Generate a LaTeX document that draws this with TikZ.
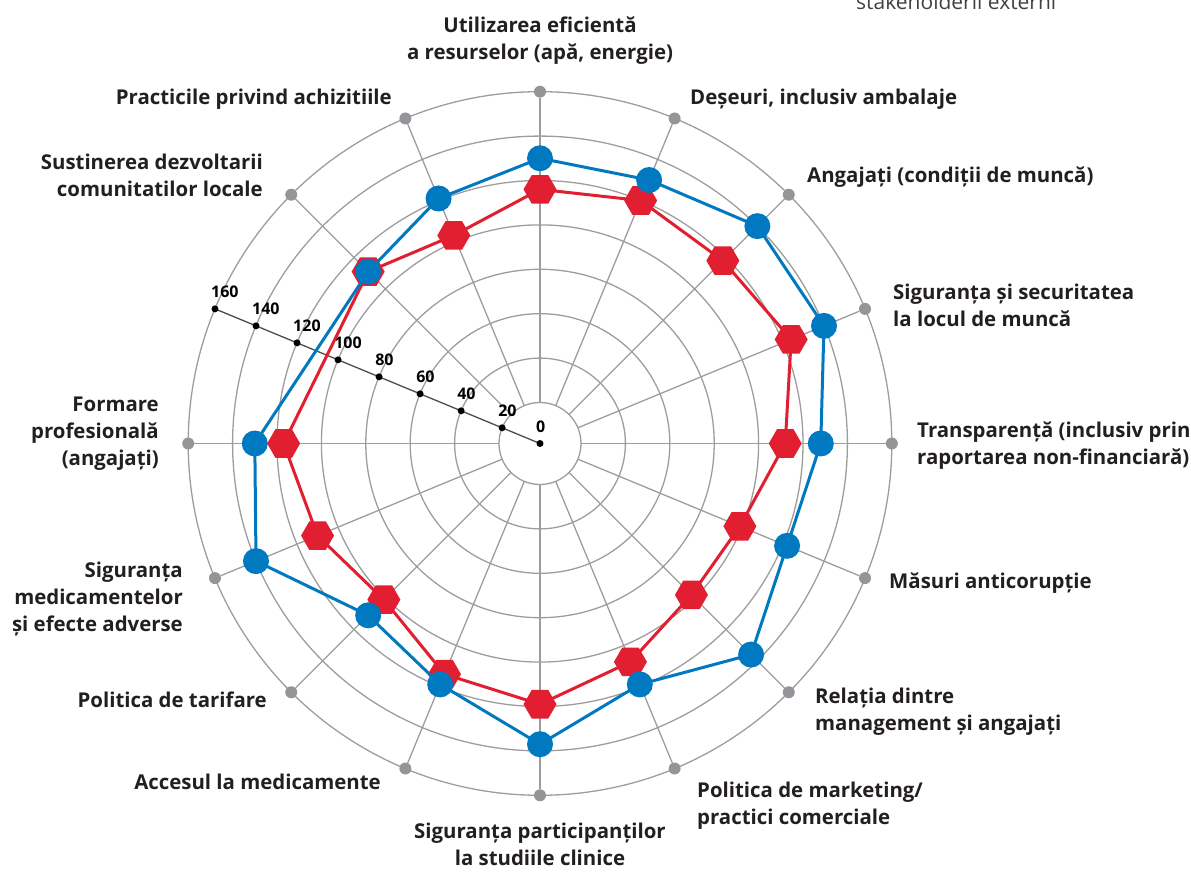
\documentclass[tikz,border=0pt]{standalone}
\usepackage{fontspec}
\setmainfont{Open Sans}
\usetikzlibrary{shapes.geometric}

\definecolor{ringgray}{HTML}{9D9D9D}
\definecolor{dotgray}{HTML}{939598}
\definecolor{txtdark}{HTML}{231F20}
\definecolor{serblue}{HTML}{0079C1}
\definecolor{serred}{HTML}{E11F30}

\tikzset{
  ring/.style={draw=ringgray, line width=1.3},
  enddot/.style={circle, fill=dotgray, inner sep=0, minimum size=12},
  scaledot/.style={circle, fill=black, inner sep=0, minimum size=7},
  scalelbl/.style={font=\fontsize{16}{16}\selectfont\bfseries, text=black, inner sep=0, anchor=base west},
  lbl/.style={font=\fontsize{20.4}{27}\selectfont\bfseries, text=txtdark, inner sep=0},
  bmark/.style={circle, fill=serblue, inner sep=0, minimum size=26},
  rmark/.style={regular polygon, regular polygon sides=6, fill=serred, inner sep=0, minimum size=33},
}

\begin{document}
\begin{tikzpicture}[x=1pt, y=1pt, declare function={ringr(\v)=2.22*\v-3.4;}]
\useasboundingbox (0,0) rectangle (1191,872);

\begin{scope}[shift={(540,428.5)}]
% rings
\foreach \v in {20,40,...,160}
  \draw[ring] (0,0) circle[radius={ringr(\v)}];
% spokes with end dots
\foreach \a [count=\i] in {90,67.5,45,22.5,0,-22.5,-45,-67.5,-90,-112.5,-135,-157.5,180,135,112.5} {
  \coordinate (s\i) at (\a:{ringr(20)});
  \node[enddot] (e\i) at (\a:{ringr(160)}) {};
  \draw[ring] (s\i) -- (e\i);
}
% scale axis
\coordinate (z0) at (0,0);
\foreach \v in {20,40,...,160}
  \coordinate (z\v) at (157.5:{ringr(\v)});
\draw[black!70, line width=1.3] (z0) -- (z160);
\foreach \v in {0,20,40,...,160} {
  \node[scaledot] at (z\v) {};
  \node[scalelbl] (t\v) at ([shift={(-4,11)}]z\v) {\v};
}

% red series
\foreach \a/\v [count=\i] in {90/116,67.5/120,45/118,22.5/124,0/112,-22.5/99,-45/98,-67.5/108,-90/119,-112.5/114,-135/101,-157.5/110,180/117,135/111,112.5/103}
  \coordinate (r\i) at (\a:{ringr(\v)});
\draw[serred, line width=3, line join=round] (r1) \foreach \i in {2,...,15} {-- (r\i)} -- cycle;
\foreach \i in {1,...,15}
  \node[rmark] (rm\i) at (r\i) {};

% blue series
\foreach \a/\v [count=\i] in {90/130,67.5/130,45/140,22.5/140,0/128,-22.5/122,-45/136,-67.5/119,-90/137,-112.5/119,-135/111,-157.5/140,180/130,135/111,112.5/121}
  \coordinate (b\i) at (\a:{ringr(\v)});
\draw[serblue, line width=3, line join=round] (b1) \foreach \i in {2,...,15} {-- (b\i)} -- cycle;
\foreach \i in {1,...,15}
  \node[bmark] (bm\i) at (b\i) {};
\end{scope}

% labels (base = last line)
\node[lbl, align=center, anchor=base] (util) at (540,812) {Utilizarea eficientă\\a resurselor (apă, energie)};
\node[lbl, anchor=base west] (deseuri) at (690,767) {Deșeuri, inclusiv ambalaje};
\node[lbl, anchor=base west] (angajati) at (807,689) {Angajați (condiții de muncă)};
\node[lbl, align=left, anchor=base west] (sigmunca) at (893,545) {Siguranța și securitatea\\la locul de muncă};
\node[lbl, align=left, anchor=base west] (transp) at (917,407) {Transparență (inclusiv prin\\raportarea non-financiară)};
\node[lbl, anchor=base west] (anticor) at (889,283) {Măsuri anticorupție};
\node[lbl, align=left, anchor=base west] (relatia) at (815,141) {Relația dintre\\management și angajați};
\node[lbl, align=left, anchor=base west] (marketing) at (697,47) {Politica de marketing/\\practici comerciale};
\node[lbl, align=center, anchor=base] (studii) at (540,6) {Siguranța participanților\\la studiile clinice};
\node[lbl, anchor=base east] (acces) at (381,82) {Accesul la medicamente};
\node[lbl, anchor=base east] (tarif) at (267,164) {Politica de tarifare};
\node[lbl, align=right, anchor=base east] (sigmed) at (183,240) {Siguranța\\medicamentelor\\și efecte adverse};
\node[lbl, align=right, anchor=base east] (formare) at (159,406) {Formare\\profesională\\(angajați)};
\node[lbl, align=right, anchor=base east] (comunit) at (263,675) {Sustinerea dezvoltarii\\comunitatilor locale};
\node[lbl, anchor=base east] (achiz) at (392,767) {Practicile privind achizitiile};
\node[font=\fontsize{21}{21}\selectfont, text=black!75, inner sep=0, anchor=base west] (stake) at (856,862) {stakeholderii externi};
\end{tikzpicture}
\end{document}
